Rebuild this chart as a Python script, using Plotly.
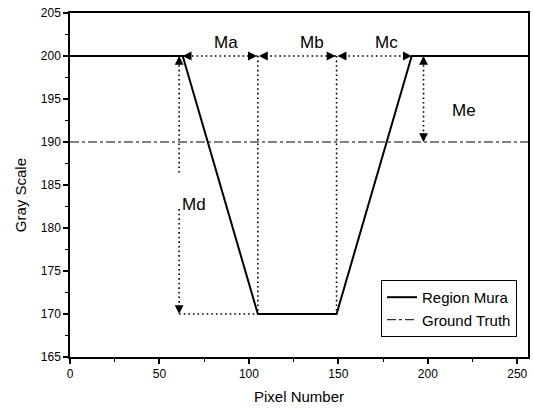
import plotly.graph_objects as go

# ---- data ----
pixel = [0, 63, 105, 149, 191, 256]
gray = [200, 200, 170, 170, 200, 200]

gt_pixel = [0, 256]
gt_gray = [190, 190]

x_ticks = [0, 50, 100, 150, 200, 250]
y_ticks = [165, 170, 175, 180, 185, 190, 195, 200, 205]

# measurement markers (data coords)
md_x = 61
me_x = 197.6
top_level = 200
bottom_level = 170
gt_level = 190
md_gap = [186.2, 182.2]

labels = ["Ma", "Mb", "Mc", "Md", "Me"]
label_x = [87, 135, 177, 69.4, 220.4]
label_y = [201.6, 201.6, 201.6, 182.7, 193.7]

FONT = "Arial, 'Liberation Sans', sans-serif"
BLACK = "black"

fig = go.Figure()
fig.add_trace(go.Scatter(x=pixel, y=gray, mode="lines", name="Region Mura",
                         line=dict(color=BLACK, width=2)))
fig.add_trace(go.Scatter(x=gt_pixel, y=gt_gray, mode="lines", name="Ground Truth",
                         line=dict(color=BLACK, width=1, dash="dashdot")))

DOT = "1.6px,3px"
def dline(x0, y0, x1, y1):
    fig.add_shape(type="line", xref="x", yref="y", x0=x0, y0=y0, x1=x1, y1=y1,
                  line=dict(color=BLACK, width=1.6, dash=DOT))

# horizontal dotted Ma/Mb/Mc line
dline(pixel[1], top_level, pixel[4], top_level)
# verticals at flat-bottom edges
dline(pixel[2], top_level, pixel[2], bottom_level)
dline(pixel[3], top_level, pixel[3], bottom_level)
# bottom horizontal to Md
dline(md_x, bottom_level, pixel[2], bottom_level)
# Md vertical (broken by label)
dline(md_x, top_level, md_x, md_gap[0])
dline(md_x, md_gap[1], md_x, bottom_level)
# Me vertical
dline(me_x, top_level, me_x, gt_level)

def head(x, y, ax, ay):
    fig.add_annotation(x=x, y=y, xref="x", yref="y", text="", showarrow=True,
                       ax=ax, ay=ay, arrowhead=2, arrowsize=1.1, arrowwidth=1.6,
                       arrowcolor=BLACK, standoff=0, startstandoff=0)

head(pixel[1], top_level, 10, 0)          # Ma left end
head(pixel[2] - 0.6, top_level, -10, 0)   # Ma right end
head(pixel[2] + 0.6, top_level, 10, 0)    # Mb left end
head(pixel[3] - 0.6, top_level, -10, 0)   # Mb right end
head(pixel[3] + 0.6, top_level, 10, 0)    # Mc left end
head(pixel[4], top_level, -10, 0)         # Mc right end
head(md_x, top_level, 0, 10)              # Md top
head(md_x, bottom_level, 0, -10)          # Md bottom
head(me_x, top_level, 0, 10)              # Me top
head(me_x, gt_level, 0, -10)              # Me bottom

for t, lx, ly in zip(labels, label_x, label_y):
    fig.add_annotation(x=lx, y=ly, xref="x", yref="y", text=t, showarrow=False,
                       font=dict(family=FONT, size=17, color=BLACK))

# y-axis title placed as in the reference (slightly below plot centre)
fig.add_annotation(x=-0.1065, y=0.471, xref="paper", yref="paper", text="Gray Scale",
                   textangle=-90, showarrow=False, xanchor="center", yanchor="middle",
                   font=dict(family=FONT, size=15, color=BLACK))

axis_common = dict(showline=True, linewidth=1.5, linecolor=BLACK, mirror=True,
                   ticks="outside", ticklen=5, tickwidth=1.5, tickcolor=BLACK,
                   showgrid=False, zeroline=False,
                   tickfont=dict(family=FONT, size=12, color=BLACK))

fig.update_layout(
    width=533, height=408,
    margin=dict(l=70, r=3, t=13, b=51),
    paper_bgcolor="white", plot_bgcolor="white",
    font=dict(family=FONT, color=BLACK),
    xaxis=dict(range=[0, 256], tickvals=x_ticks,
               minor=dict(ticks="outside", ticklen=3, tickwidth=1, dtick=25, tick0=0, tickcolor=BLACK),
               title=dict(text="Pixel Number", font=dict(family=FONT, size=15), standoff=11),
               **axis_common),
    yaxis=dict(range=[165, 205], tickvals=y_ticks,
               minor=dict(ticks="outside", ticklen=3, tickwidth=1, dtick=2.5, tick0=165, tickcolor=BLACK),
               **axis_common),
    legend=dict(x=0.976, y=0.224, xanchor="right", yanchor="top",
                bgcolor="white", bordercolor=BLACK, borderwidth=1,
                font=dict(family=FONT, size=15, color=BLACK),
                tracegroupgap=0, itemwidth=30),
    showlegend=True,
)

fig.write_html("out.html")
